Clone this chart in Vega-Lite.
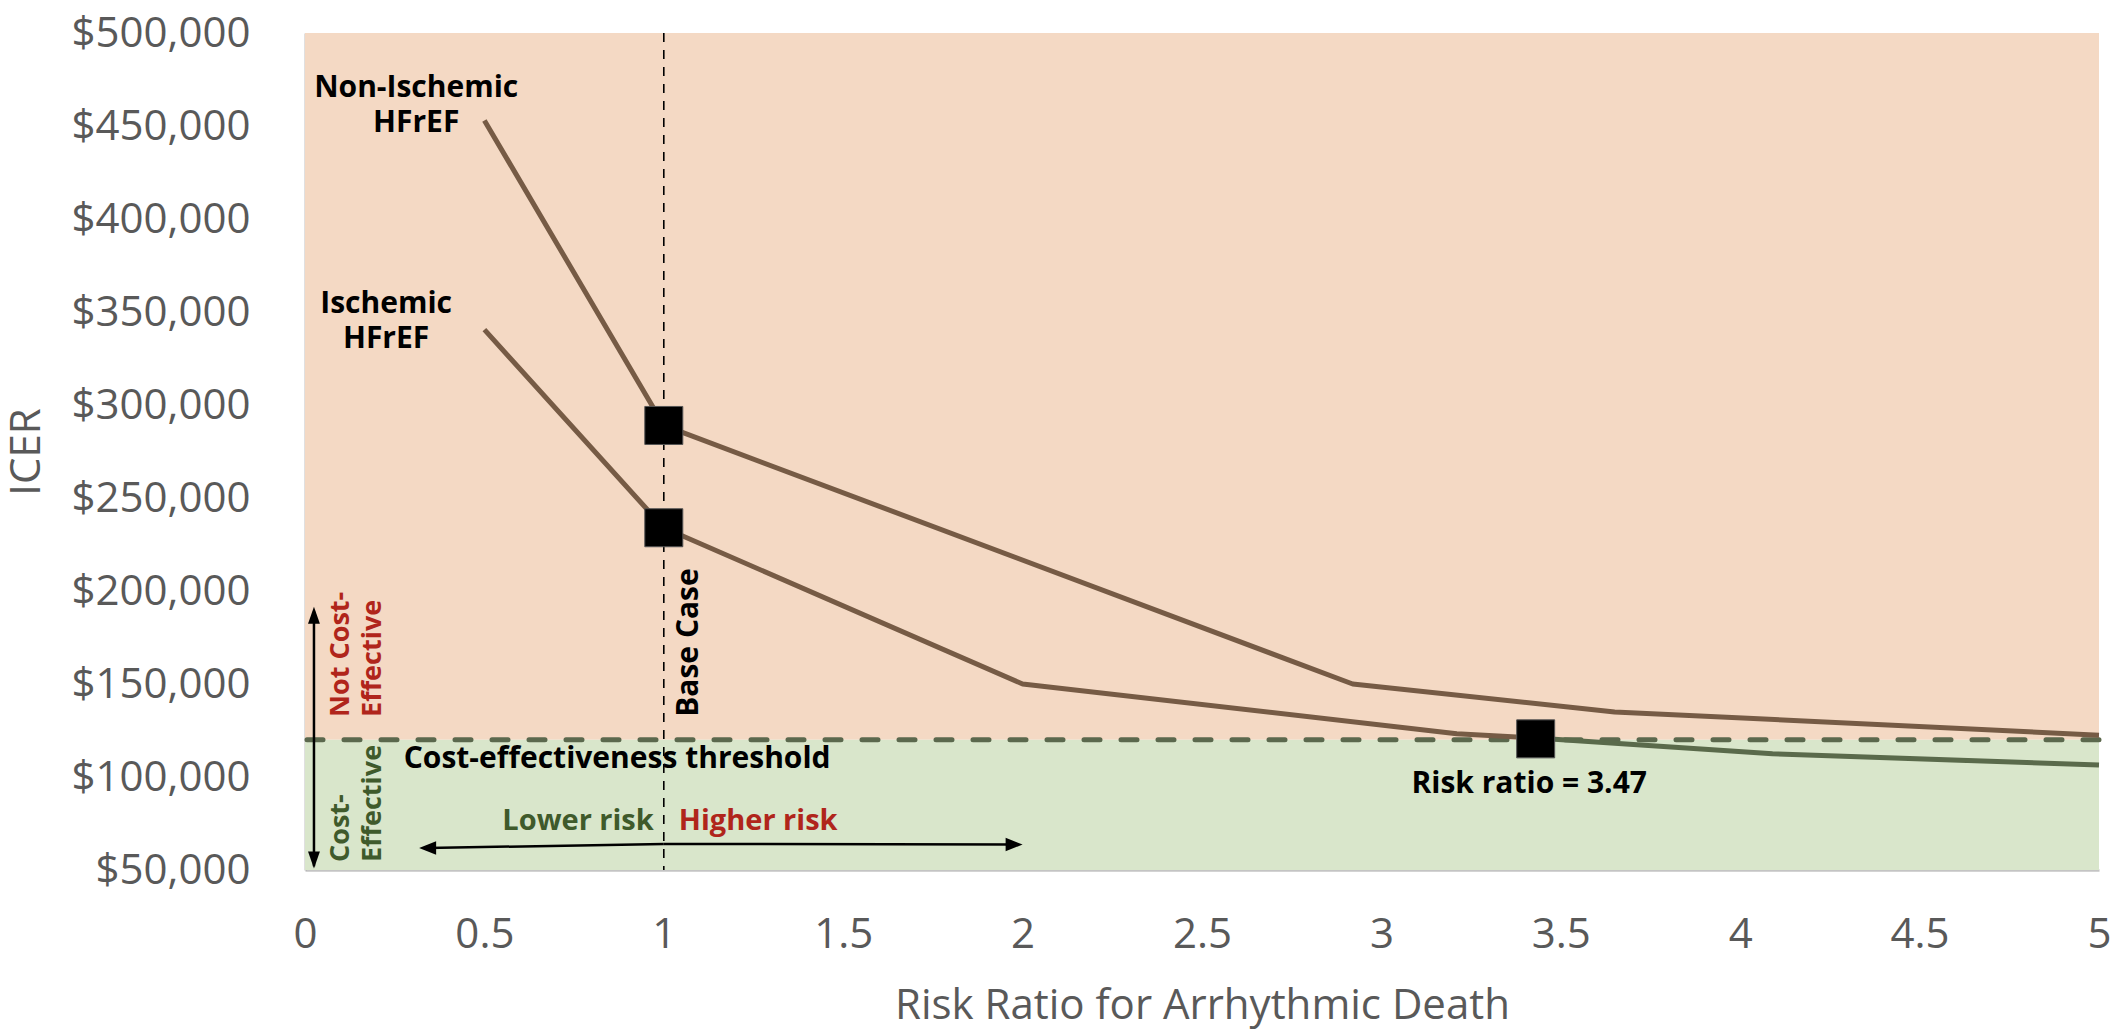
{
  "$schema": "https://vega.github.io/schema/vega-lite/v6.json",
  "autosize": "none",
  "width": 1794,
  "height": 837,
  "padding": {"left": 305, "top": 33, "right": 19, "bottom": 166},
  "background": "#ffffff",
  "config": {
    "view": {"stroke": null},
    "font": "Open Sans",
    "axis": {"labelFont": "Open Sans", "titleFont": "Open Sans", "labelColor": "#595959", "titleColor": "#595959", "labelFontSize": 42, "titleFontSize": 42, "titleFontWeight": "normal", "grid": false, "ticks": false}
  },
  "datasets": {
    "zones": [
      {"zone": "Not cost-effective", "lo": 120000, "hi": 500000},
      {"zone": "Cost-effective", "lo": 50000, "hi": 120000}
    ],
    "threshold": [{"icer": 120000}],
    "basecase": [{"rr": 1}],
    "curves": [
      {"part": "Non-Ischemic HFrEF", "rr": 0.5, "icer": 453000},
      {"part": "Non-Ischemic HFrEF", "rr": 1, "icer": 289000},
      {"part": "Non-Ischemic HFrEF", "rr": 2.92, "icer": 150000},
      {"part": "Non-Ischemic HFrEF", "rr": 3.65, "icer": 135000},
      {"part": "Non-Ischemic HFrEF", "rr": 5, "icer": 122500},
      {"part": "Ischemic HFrEF above threshold", "rr": 0.5, "icer": 340500},
      {"part": "Ischemic HFrEF above threshold", "rr": 1, "icer": 234000},
      {"part": "Ischemic HFrEF above threshold", "rr": 2, "icer": 150000},
      {"part": "Ischemic HFrEF above threshold", "rr": 3.21, "icer": 123300},
      {"part": "Ischemic HFrEF above threshold", "rr": 3.43, "icer": 121000},
      {"part": "Ischemic HFrEF below threshold", "rr": 3.43, "icer": 121000},
      {"part": "Ischemic HFrEF below threshold", "rr": 4.09, "icer": 112500},
      {"part": "Ischemic HFrEF below threshold", "rr": 5, "icer": 106400}
    ],
    "markers": [
      {"what": "Non-Ischemic base case", "rr": 1, "icer": 289000},
      {"what": "Ischemic base case", "rr": 1, "icer": 234000},
      {"what": "Ischemic threshold crossing", "rr": 3.43, "icer": 120500}
    ],
    "arrowLines": [
      {"arrow": "vertical", "rr": 0.025, "icer": 52000, "rr2": 0.025, "icer2": 189000},
      {"arrow": "lower", "rr": 0.34, "icer": 61800, "rr2": 1, "icer2": 64000},
      {"arrow": "higher", "rr": 1, "icer": 64000, "rr2": 1.98, "icer2": 63700}
    ],
    "heads": [
      {"dir": "up", "rr": 0.025, "icer": 191500},
      {"dir": "down", "rr": 0.025, "icer": 50800},
      {"dir": "left", "rr": 0.318, "icer": 61800},
      {"dir": "right", "rr": 2.0, "icer": 63700}
    ],
    "labels": [
      {"group": "black", "text": "Non-Ischemic", "rr": 0.31, "icer": 465600},
      {"group": "black", "text": "HFrEF", "rr": 0.31, "icer": 446800},
      {"group": "black", "text": "Ischemic", "rr": 0.226, "icer": 349400},
      {"group": "black", "text": "HFrEF", "rr": 0.226, "icer": 330600},
      {"group": "black", "text": "Cost-effectiveness threshold", "rr": 0.87, "icer": 104800},
      {"group": "black", "text": "Risk ratio = 3.47", "rr": 3.412, "icer": 91600},
      {"group": "green", "text": "Lower risk", "rr": 0.761, "icer": 71500},
      {"group": "red", "text": "Higher risk", "rr": 1.263, "icer": 71500},
      {"group": "rotBlack", "text": "Base Case", "rr": 1.095, "icer": 172300},
      {"group": "rotRed", "text": "Not Cost-", "rr": 0.123, "icer": 132300},
      {"group": "rotRed", "text": "Effective", "rr": 0.212, "icer": 132300},
      {"group": "rotGreen", "text": "Cost-", "rr": 0.123, "icer": 54300},
      {"group": "rotGreen", "text": "Effective", "rr": 0.212, "icer": 54300}
    ]
  },
  "layer": [
    {
      "data": {"name": "zones"},
      "mark": {"type": "rect"},
      "encoding": {
        "x": {"datum": 0, "type": "quantitative", "scale": {"domain": [0, 5], "nice": false, "zero": false},
          "axis": {"values": [0, 0.5, 1, 1.5, 2, 2.5, 3, 3.5, 4, 4.5, 5], "format": "~g", "title": "Risk Ratio for Arrhythmic Death", "labelPadding": 44, "labelFlush": false, "labelOverlap": false, "titlePadding": 30, "domainColor": "#c4c4c4", "domainWidth": 2.5}},
        "x2": {"datum": 5},
        "y": {"field": "lo", "type": "quantitative", "scale": {"domain": [50000, 500000], "nice": false, "zero": false},
          "axis": {"values": [50000, 100000, 150000, 200000, 250000, 300000, 350000, 400000, 450000, 500000], "format": "$,.0f", "title": "ICER", "labelPadding": 55, "labelFlush": false, "labelOverlap": false, "titleX": -266, "titleBaseline": "alphabetic", "titleAngle": 270, "domainColor": "#000000", "domainOpacity": 0.12, "domainWidth": 3}},
        "y2": {"field": "hi"},
        "fill": {"field": "zone", "type": "nominal", "scale": {"domain": ["Not cost-effective", "Cost-effective"], "range": ["#f4d9c4", "#d9e6cb"]}, "legend": null}
      }
    },
    {
      "data": {"name": "basecase"},
      "mark": {"type": "rule", "color": "#000000", "strokeWidth": 1.6, "strokeDash": [9, 8]},
      "encoding": {"x": {"field": "rr", "type": "quantitative"}}
    },
    {
      "data": {"name": "threshold"},
      "mark": {"type": "rule", "color": "#5b684d", "strokeWidth": 5, "strokeDash": [16, 21], "strokeCap": "round"},
      "encoding": {"y": {"field": "icer", "type": "quantitative"}}
    },
    {
      "data": {"name": "curves"},
      "mark": {"type": "line", "strokeWidth": 5, "strokeJoin": "round"},
      "encoding": {
        "x": {"field": "rr", "type": "quantitative"},
        "y": {"field": "icer", "type": "quantitative"},
        "detail": {"field": "part"},
        "stroke": {"field": "part", "type": "nominal", "scale": {"domain": ["Non-Ischemic HFrEF", "Ischemic HFrEF above threshold", "Ischemic HFrEF below threshold"], "range": ["#765b45", "#765b45", "#5a6a4b"]}, "legend": null}
      }
    },
    {
      "data": {"name": "markers"},
      "mark": {"type": "point", "shape": "square", "filled": true, "size": 1444, "fill": "#000000", "stroke": "#555555", "strokeWidth": 1, "opacity": 1},
      "encoding": {
        "x": {"field": "rr", "type": "quantitative"},
        "y": {"field": "icer", "type": "quantitative"}
      }
    },
    {
      "data": {"name": "arrowLines"},
      "mark": {"type": "rule", "color": "#000000", "strokeWidth": 2.5},
      "encoding": {
        "x": {"field": "rr", "type": "quantitative"},
        "y": {"field": "icer", "type": "quantitative"},
        "x2": {"field": "rr2"},
        "y2": {"field": "icer2"}
      }
    },
    {
      "data": {"name": "heads"},
      "transform": [{"filter": "datum.dir === 'up'"}],
      "mark": {"type": "point", "shape": "M0,0L-0.7,2L0.7,2Z", "filled": true, "size": 289, "fill": "#000000", "strokeWidth": 0, "opacity": 1},
      "encoding": {"x": {"field": "rr", "type": "quantitative"}, "y": {"field": "icer", "type": "quantitative"}}
    },
    {
      "data": {"name": "heads"},
      "transform": [{"filter": "datum.dir === 'down'"}],
      "mark": {"type": "point", "shape": "M0,0L-0.7,-2L0.7,-2Z", "filled": true, "size": 289, "fill": "#000000", "strokeWidth": 0, "opacity": 1},
      "encoding": {"x": {"field": "rr", "type": "quantitative"}, "y": {"field": "icer", "type": "quantitative"}}
    },
    {
      "data": {"name": "heads"},
      "transform": [{"filter": "datum.dir === 'left'"}],
      "mark": {"type": "point", "shape": "M0,0L2,-0.8L2,0.8Z", "filled": true, "size": 289, "fill": "#000000", "strokeWidth": 0, "opacity": 1},
      "encoding": {"x": {"field": "rr", "type": "quantitative"}, "y": {"field": "icer", "type": "quantitative"}}
    },
    {
      "data": {"name": "heads"},
      "transform": [{"filter": "datum.dir === 'right'"}],
      "mark": {"type": "point", "shape": "M0,0L-2,-0.8L-2,0.8Z", "filled": true, "size": 289, "fill": "#000000", "strokeWidth": 0, "opacity": 1},
      "encoding": {"x": {"field": "rr", "type": "quantitative"}, "y": {"field": "icer", "type": "quantitative"}}
    },
    {
      "data": {"name": "labels"},
      "transform": [{"filter": "datum.group === 'black'"}],
      "mark": {"type": "text", "font": "Open Sans", "fontWeight": "bold", "fontSize": 30, "fill": "#000000", "align": "center", "baseline": "alphabetic"},
      "encoding": {"x": {"field": "rr", "type": "quantitative"}, "y": {"field": "icer", "type": "quantitative"}, "text": {"field": "text"}}
    },
    {
      "data": {"name": "labels"},
      "transform": [{"filter": "datum.group === 'green'"}],
      "mark": {"type": "text", "font": "Open Sans", "fontWeight": "bold", "fontSize": 29, "fill": "#3f5a2b", "align": "center", "baseline": "alphabetic"},
      "encoding": {"x": {"field": "rr", "type": "quantitative"}, "y": {"field": "icer", "type": "quantitative"}, "text": {"field": "text"}}
    },
    {
      "data": {"name": "labels"},
      "transform": [{"filter": "datum.group === 'red'"}],
      "mark": {"type": "text", "font": "Open Sans", "fontWeight": "bold", "fontSize": 29, "fill": "#b0251b", "align": "center", "baseline": "alphabetic"},
      "encoding": {"x": {"field": "rr", "type": "quantitative"}, "y": {"field": "icer", "type": "quantitative"}, "text": {"field": "text"}}
    },
    {
      "data": {"name": "labels"},
      "transform": [{"filter": "datum.group === 'rotBlack'"}],
      "mark": {"type": "text", "font": "Open Sans", "fontWeight": "bold", "fontSize": 30, "fill": "#000000", "align": "center", "baseline": "alphabetic", "angle": 270},
      "encoding": {"x": {"field": "rr", "type": "quantitative"}, "y": {"field": "icer", "type": "quantitative"}, "text": {"field": "text"}}
    },
    {
      "data": {"name": "labels"},
      "transform": [{"filter": "datum.group === 'rotRed'"}],
      "mark": {"type": "text", "font": "Open Sans", "fontWeight": "bold", "fontSize": 27, "fill": "#b0251b", "align": "left", "baseline": "alphabetic", "angle": 270},
      "encoding": {"x": {"field": "rr", "type": "quantitative"}, "y": {"field": "icer", "type": "quantitative"}, "text": {"field": "text"}}
    },
    {
      "data": {"name": "labels"},
      "transform": [{"filter": "datum.group === 'rotGreen'"}],
      "mark": {"type": "text", "font": "Open Sans", "fontWeight": "bold", "fontSize": 27, "fill": "#3f5a2b", "align": "left", "baseline": "alphabetic", "angle": 270},
      "encoding": {"x": {"field": "rr", "type": "quantitative"}, "y": {"field": "icer", "type": "quantitative"}, "text": {"field": "text"}}
    }
  ]
}
